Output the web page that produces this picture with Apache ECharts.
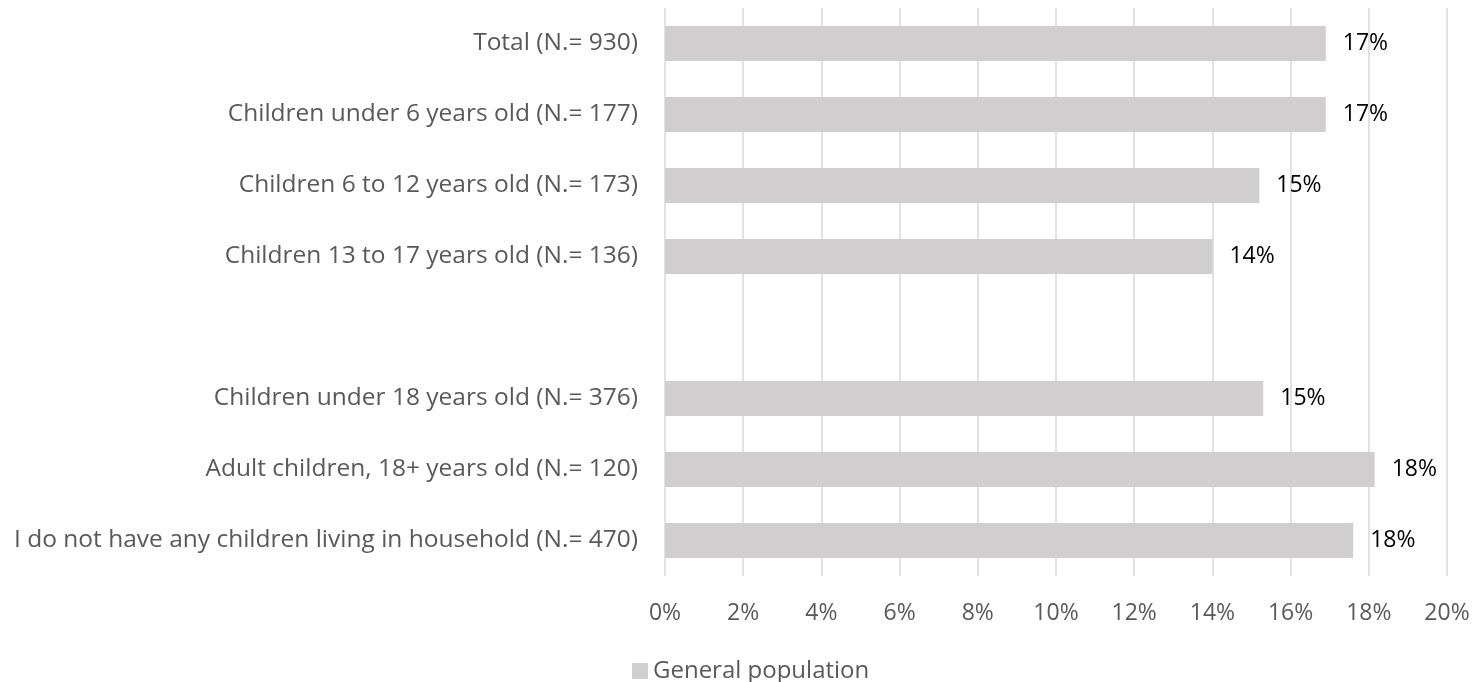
<!DOCTYPE html>
<html>
<head>
<meta charset="utf-8">
<script src="https://cdn.jsdelivr.net/npm/echarts@6/dist/echarts.min.js"></script>
<style>
  html, body { margin: 0; padding: 0; background: #fff; }
  #chart { width: 1474px; height: 682px; }
</style>
</head>
<body>
<div id="chart"></div>
<script>
const categories = [
    'Total (N.= 930)',
    'Children under 6 years old (N.= 177)',
    'Children 6 to 12 years old (N.= 173)',
    'Children 13 to 17 years old (N.= 136)',
    '',
    'Children under 18 years old (N.= 376)',
    'Adult children, 18+ years old (N.= 120)',
    'I do not have any children living in household (N.= 470)',
];
const generalPopulation = [16.9, 16.9, 15.2, 14.0, null, 15.3, 18.15, 17.6];
const xTicks = { min: 0, max: 20, interval: 2 };

const font = '"Open Sans", sans-serif';
const chart = echarts.init(document.getElementById('chart'), null, { renderer: 'canvas' });

chart.setOption({
    backgroundColor: '#fff',
    animation: false,
    textStyle: { fontFamily: font },
    grid: { left: 665, right: 27, top: 8, bottom: 106, containLabel: false },
    legend: {
        data: ['General population'],
        bottom: -6,
        left: 627,
        itemWidth: 16,
        itemHeight: 16,
        itemGap: 6,
        textStyle: { color: '#595959', fontSize: 24, fontFamily: font },
        icon: 'rect',
    },
    xAxis: {
        type: 'value',
        min: xTicks.min,
        max: xTicks.max,
        interval: xTicks.interval,
        axisLine: { show: false },
        axisTick: { show: false },
        splitLine: { lineStyle: { color: '#d9d9d9', width: 1.5 } },
        axisLabel: {
            color: '#595959',
            fontSize: 23,
            margin: 26,
            fontFamily: font,
            formatter: (v) => v + '%',
        },
    },
    yAxis: {
        type: 'category',
        inverse: true,
        data: categories,
        axisLine: { show: false },
        axisTick: { show: false },
        axisLabel: { color: '#595959', fontSize: 24.5, margin: 27, fontFamily: font },
    },
    series: [
        {
            name: 'General population',
            type: 'bar',
            data: generalPopulation,
            barWidth: 35,
            itemStyle: { color: '#d0cece' },
            label: {
                show: true,
                position: 'right',
                distance: 17,
                color: '#000',
                fontSize: 23,
                fontFamily: font,
                formatter: (p) => (p.value == null ? '' : Math.round(p.value) + '%'),
            },
        },
    ],
});
</script>
</body>
</html>
